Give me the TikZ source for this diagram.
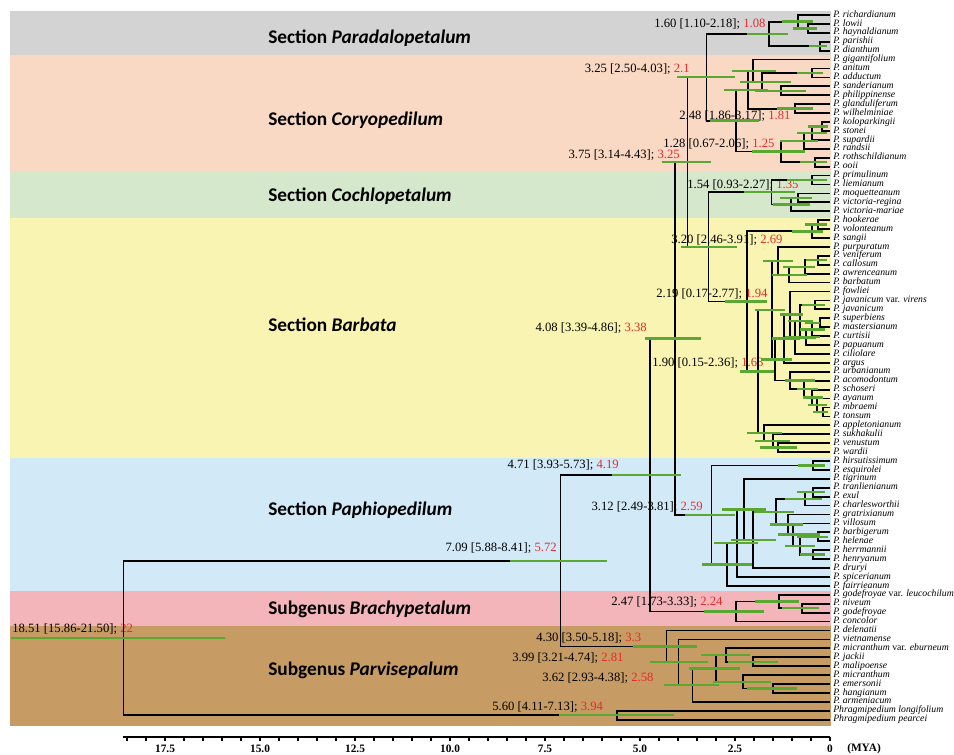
\documentclass[tikz,border=0pt]{standalone}
\usepackage{fontspec}
\setmainfont{Liberation Serif}
\newfontfamily\secfont{Carlito}
\usetikzlibrary{calc}
\definecolor{bgray}{RGB}{211,211,211}
\definecolor{bpeach}{RGB}{250,217,196}
\definecolor{bgreen}{RGB}{214,232,203}
\definecolor{byellow}{RGB}{249,244,178}
\definecolor{bblue}{RGB}{210,234,248}
\definecolor{bpink}{RGB}{243,180,186}
\definecolor{btan}{RGB}{198,155,100}
\definecolor{hpdgreen}{RGB}{90,168,50}
\definecolor{agered}{RGB}{225,45,45}
\newcommand\jn[4]{\coordinate (jtmp) at ($(#3)!0.5!(#4)$);\coordinate (#1) at (#2,0 |- jtmp);\draw[br] (#3) -| (#1) |- (#4);}
\newcommand\hpdbar[3]{\draw[hpd] (#1 -| #2,0) -- (#1 -| #3,0);}
\newcommand\dlab[5]{\node[dl,anchor=#2] (#1) at (#3) {#4; \textcolor{agered}{#5}};}
\begin{document}
\begin{tikzpicture}[x=0.75pt,y=-0.75pt,
  br/.style={line width=1.3pt,black},
  hpd/.style={line width=1.8pt,hpdgreen},
  dl/.style={inner sep=0pt,font=\fontsize{9.5}{11}\selectfont},
  tax/.style={inner sep=0pt,anchor=west,text height=4.6pt,text depth=1.4pt,font=\fontsize{7.3}{8}\selectfont\itshape},
  sec/.style={inner sep=0pt,anchor=west,font=\fontsize{14.5}{16}\selectfont\secfont\bfseries},
  axisline/.style={line width=1.1pt,black},
  axl/.style={inner sep=0pt,font=\fontsize{8.5}{10}\selectfont\bfseries}]
\useasboundingbox (0,0) rectangle (954,755);
\fill[white] (0,0) rectangle (954,755);
% background bands
\fill[bgray]   (10,11)    rectangle (830.5,55);
\fill[bpeach]  (10,55)    rectangle (830.5,172.5);
\fill[bgreen]  (10,172.5) rectangle (830.5,218.3);
\fill[byellow] (10,218.3) rectangle (830.5,458.3);
\fill[bblue]   (10,458.3) rectangle (830.5,590.7);
\fill[bpink]   (10,590.7) rectangle (830.5,625.7);
\fill[btan]    (10,625.7) rectangle (830.5,725.5);
% section labels
\node[sec] (s1) at (268,38)  {Section \textit{Paradalopetalum}};
\node[sec] (s2) at (268,120) {Section \textit{Coryopedilum}};
\node[sec] (s3) at (268,196) {Section \textit{Cochlopetalum}};
\node[sec] (s4) at (268,325) {Section \textit{Barbata}};
\node[sec] (s5) at (268,510) {Section \textit{Paphiopedilum}};
\node[sec] (s6) at (268,609) {Subgenus \textit{Brachypetalum}};
\node[sec] (s7) at (268,670) {Subgenus \textit{Parvisepalum}};
% date labels
\dlab{d1851}{west}{12,629}{18.51 [15.86-21.50]}{22}
\dlab{d709}{east}{557,548}{7.09 [5.88-8.41]}{5.72}
\dlab{d471}{east}{619,465}{4.71 [3.93-5.73]}{4.19}
\dlab{d408}{east}{647,328}{4.08 [3.39-4.86]}{3.38}
\dlab{d375}{east}{680,155}{3.75 [3.14-4.43]}{3.25}
\dlab{d325}{east}{690,69}{3.25 [2.50-4.03]}{2.1}
\dlab{d160}{west}{654,24}{1.60 [1.10-2.18]}{1.08}
\dlab{d248}{west}{679,116}{2.48 [1.86-3.17]}{1.81}
\dlab{d128}{west}{663,144}{1.28 [0.67-2.06]}{1.25}
\dlab{d154}{west}{687,185}{1.54 [0.93-2.27]}{1.35}
\dlab{d320}{west}{671,240}{3.20 [2.46-3.91]}{2.69}
\dlab{d219}{west}{656,294}{2.19 [0.17-2.77]}{1.94}
\dlab{d190}{west}{652,363}{1.90 [0.15-2.36]}{1.63}
\dlab{d312}{east}{703,507}{3.12 [2.49-3.81]}{2.59}
\dlab{d247}{west}{611,602}{2.47 [1.73-3.33]}{2.24}
\dlab{d430}{west}{536,638}{4.30 [3.50-5.18]}{3.3}
\dlab{d399}{west}{512,658}{3.99 [3.21-4.74]}{2.81}
\dlab{d362}{west}{542,678}{3.62 [2.93-4.38]}{2.58}
\dlab{d560}{west}{492,707}{5.60 [4.11-7.13]}{3.94}
% tips and taxon labels
\foreach \i/\t in {1/{P. richardianum},2/{P. lowii},3/{P. haynaldianum},4/{P. parishii},5/{P. dianthum},
 6/{P. gigantifolium},7/{P. anitum},8/{P. adductum},9/{P. sanderianum},10/{P. philippinense},
 11/{P. glanduliferum},12/{P. wilhelminiae},13/{P. koloparkingii},14/{P. stonei},15/{P. supardii},
 16/{P. randsii},17/{P. rothschildianum},18/{P. ooii},19/{P. primulinum},20/{P. liemianum},
 21/{P. moquetteanum},22/{P. victoria-regina},23/{P. victoria-mariae},24/{P. hookerae},25/{P. volonteanum},
 26/{P. sangii},27/{P. purpuratum},28/{P. veniferum},29/{P. callosum},30/{P. awrenceanum},
 31/{P. barbatum},32/{P. fowliei},33/{P. javanicum \textup{var.} virens},34/{P. javanicum},35/{P. superbiens},
 36/{P. mastersianum},37/{P. curtisii},38/{P. papuanum},39/{P. ciliolare},40/{P. argus},
 41/{P. urbanianum},42/{P. acomodontum},43/{P. schoseri},44/{P. ayanum},45/{P. mbraemi},
 46/{P. tonsum},47/{P. appletonianum},48/{P. sukhakulii},49/{P. venustum},50/{P. wardii},
 51/{P. hirsutissimum},52/{P. esquirolei},53/{P. tigrinum},54/{P. tranlienianum},55/{P. exul},
 56/{P. charlesworthii},57/{P. gratrixianum},58/{P. villosum},59/{P. barbigerum},60/{P. helenae},
 61/{P. herrmannii},62/{P. henryanum},63/{P. druryi},64/{P. spicerianum},65/{P. fairrieanum},
 66/{P. godefroyae \textup{var.} leucochilum},67/{P. niveum},68/{P. godefroyae},69/{P. concolor},70/{P. delenatii},
 71/{P. vietnamense},72/{P. micranthum \textup{var.} eburneum},73/{P. jackii},74/{P. malipoense},75/{P. micranthum},
 76/{P. emersonii},77/{P. hangianum},78/{P. armeniacum},79/{Phragmipedium longifolium},80/{Phragmipedium pearcei}}{
 \coordinate (t\i) at (830,{15+(\i-1)*8.92});
 \node[tax] (l\i) at (833,{15+(\i-1)*8.92}) {\t};
}
% Paradalopetalum
\jn{lh}{808}{t2}{t3}
\jn{rlh}{798}{t1}{lh}
\jn{pd}{820}{t4}{t5}
\jn{parad}{769}{rlh}{pd}
% Coryopedilum
\jn{aa}{812}{t7}{t8}
\jn{sp}{781}{t9}{t10}
\jn{cB}{762}{aa}{sp}
\jn{cA}{753}{t6}{cB}
\jn{gw}{795}{t11}{t12}
\jn{cC}{748}{cA}{gw}
\jn{ks}{822}{t13}{t14}
\jn{kss}{812}{ks}{t15}
\jn{kssr}{804}{kss}{t16}
\jn{ro}{815}{t17}{t18}
\jn{n128}{781}{kssr}{ro}
\jn{n248}{736}{cC}{n128}
\jn{n325}{706.5}{parad}{n248}
% Cochlopetalum
\jn{pl}{812}{t19}{t20}
\jn{mv}{798}{t21}{t22}
\jn{mvm}{791}{mv}{t23}
\jn{n154}{771.5}{pl}{mvm}
% Barbata
\jn{hv}{818}{t24}{t25}
\jn{hvs}{812}{hv}{t26}
\jn{vc}{818}{t28}{t29}
\jn{vcl}{805}{vc}{t30}
\jn{vclb}{789}{vcl}{t31}
\jn{pur}{778}{t27}{vclb}
\jn{jj}{815}{t33}{t34}
\jn{sm}{820}{t35}{t36}
\jn{smc}{812}{sm}{t37}
\jn{smcp}{806}{smc}{t38}
\jn{js}{800}{jj}{smcp}
\jn{jsc}{795}{js}{t39}
\jn{fow}{790}{t32}{jsc}
\jn{arg}{784}{fow}{t40}
\jn{mt}{823}{t45}{t46}
\jn{amt}{817}{t44}{mt}
\jn{samt}{812}{t43}{amt}
\jn{asamt}{804}{t42}{samt}
\jn{urb}{790}{t41}{asamt}
\jn{ptwo}{775}{arg}{urb}
\jn{uu}{772}{pur}{ptwo}
\jn{vw}{778}{t49}{t50}
\jn{svw}{773}{t48}{vw}
\jn{asvw}{764}{t47}{svw}
\jn{n190}{757.8}{uu}{asvw}
\jn{n219}{746.8}{hvs}{n190}
\jn{n320}{708.4}{n154}{n219}
\jn{n375}{687.5}{n325}{n320}
% Paphiopedilum
\jn{he}{813}{t51}{t52}
\jn{te}{813}{t54}{t55}
\jn{tec}{805}{te}{t56}
\jn{bh}{818}{t59}{t60}
\jn{hh}{813}{t61}{t62}
\jn{bhhh}{800}{bh}{hh}
\jn{vb}{793}{t58}{bhhh}
\jn{gv}{788}{t57}{vb}
\jn{gg}{776}{tec}{gv}
\jn{dru}{753}{gg}{t63}
\jn{tig}{744}{t53}{dru}
\jn{spi}{737}{tig}{t64}
\jn{fai}{727}{spi}{t65}
\jn{n312}{711.4}{he}{fai}
\jn{n408}{675}{n375}{n312}
% Brachypetalum
\jn{ng}{802}{t67}{t68}
\jn{lng}{779}{t66}{ng}
\jn{n247}{736}{lng}{t69}
\jn{n471}{650}{n408}{n247}
% Parvisepalum
\jn{jmal}{753}{t73}{t74}
\jn{ejm}{726}{t72}{jmal}
\jn{eh}{773}{t76}{t77}
\jn{meh}{743}{t75}{eh}
\jn{em}{716}{ejm}{meh}
\jn{n362}{692.4}{em}{t78}
\jn{n399}{678.4}{t71}{n362}
\jn{n430}{666.6}{t70}{n399}
\jn{n709}{560.6}{n471}{n430}
\jn{n560}{617.2}{t79}{t80}
\jn{root}{123.5}{n709}{n560}
% HPD bars
\hpdbar{lh}{793}{817}\hpdbar{rlh}{782}{813}\hpdbar{pd}{809}{827}\hpdbar{parad}{747.1}{788.1}
\hpdbar{aa}{797}{823}\hpdbar{sp}{755}{806}\hpdbar{cB}{740}{791}\hpdbar{cA}{732}{776}
\hpdbar{gw}{777}{813}\hpdbar{cC}{724}{768}\hpdbar{ks}{808}{828}\hpdbar{kss}{797}{827}
\hpdbar{kssr}{780}{818}\hpdbar{ro}{800}{827}\hpdbar{n128}{751.7}{804.5}\hpdbar{n248}{709.5}{759.3}
\hpdbar{n325}{676.9}{735}
\hpdbar{pl}{787}{827}\hpdbar{mv}{780}{812}\hpdbar{mvm}{773}{810}\hpdbar{n154}{743.7}{794.6}
\hpdbar{hv}{805}{827}\hpdbar{hvs}{792}{823}\hpdbar{vc}{806}{827}\hpdbar{vcl}{783}{815}
\hpdbar{vclb}{772}{807}\hpdbar{pur}{763}{793}\hpdbar{jj}{802}{825}\hpdbar{sm}{805}{820}
\hpdbar{smc}{800}{825}\hpdbar{smcp}{796}{820}\hpdbar{js}{788}{813}\hpdbar{jsc}{785}{816}
\hpdbar{fow}{780}{803}\hpdbar{arg}{772}{800}\hpdbar{ptwo}{762}{792}
\hpdbar{urb}{785}{815}\hpdbar{asamt}{797}{818}\hpdbar{samt}{803}{823}\hpdbar{amt}{808}{827}\hpdbar{mt}{813}{828}
\hpdbar{uu}{755}{785}\hpdbar{vw}{760}{797}\hpdbar{svw}{755}{790}\hpdbar{asvw}{747}{782}
\hpdbar{n190}{740}{774}\hpdbar{n219}{725}{767}\hpdbar{n320}{681.4}{736.5}\hpdbar{n375}{661.7}{710.7}
\hpdbar{he}{798}{825}\hpdbar{te}{797}{825}\hpdbar{tec}{785}{822}\hpdbar{bh}{797}{828}
\hpdbar{hh}{800}{825}\hpdbar{bhhh}{785}{815}\hpdbar{vb}{778}{820}\hpdbar{gv}{770}{803}
\hpdbar{gg}{754}{794}\hpdbar{dru}{731}{776}\hpdbar{tig}{722}{766}\hpdbar{spi}{714}{758}
\hpdbar{fai}{702}{752}\hpdbar{n312}{685.2}{735.4}\hpdbar{n408}{645.3}{701.2}
\hpdbar{ng}{782}{819}\hpdbar{lng}{755}{799}\hpdbar{n247}{703.5}{764.3}\hpdbar{n471}{612.3}{680.7}
\hpdbar{jmal}{728}{778}\hpdbar{ejm}{701}{750}\hpdbar{eh}{747}{797}\hpdbar{meh}{713}{771}
\hpdbar{em}{689}{740}\hpdbar{n362}{663.6}{718.7}\hpdbar{n399}{649.9}{708}\hpdbar{n430}{633.2}{697}
\hpdbar{n709}{510.4}{606.6}\hpdbar{n560}{559}{673.8}\hpdbar{root}{11}{225}
% time axis
\coordinate (axs) at (123,737);
\coordinate (axe) at (830,737);
\draw[axisline] (axs) -- (axe);
\foreach \t in {0,1,...,37}{\draw[axisline] ({830-19*\t},737) -- ++(0,4);}
\foreach \v/\l [count=\k] in {17.5/17.5,15/15.0,12.5/12.5,10/10.0,7.5/7.5,5/5.0,2.5/2.5,0/0}{
 \node[axl] (ax\k) at ({830-38*\v},749) {\l};
}
\node[axl,anchor=west] (mya) at (847,749) {(MYA)};
\end{tikzpicture}
\end{document}
